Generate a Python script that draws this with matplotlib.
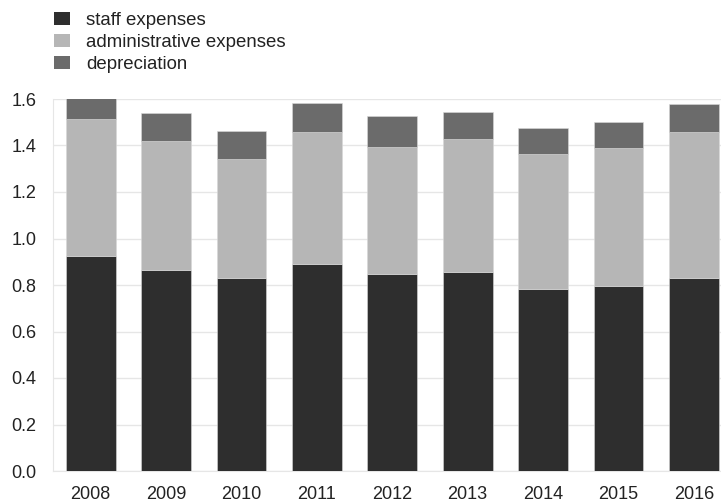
import numpy as np
import matplotlib
matplotlib.use("Agg")
import matplotlib.pyplot as plt
from matplotlib.patches import Patch

years = ['2008', '2009', '2010', '2011', '2012', '2013', '2014', '2015', '2016']
staff = [0.926, 0.864, 0.830, 0.891, 0.848, 0.857, 0.784, 0.796, 0.832]
admin = [0.589, 0.555, 0.510, 0.566, 0.547, 0.572, 0.581, 0.595, 0.624]
depreciation = [0.110, 0.120, 0.124, 0.125, 0.133, 0.116, 0.110, 0.109, 0.121]

labels = ['staff expenses', 'administrative expenses', 'depreciation']
colors = ['#2e2e2e', '#b6b6b6', '#6b6b6b']

plt.rcParams['font.family'] = ['Liberation Sans', 'DejaVu Sans']

fig = plt.figure(figsize=(7.21, 5.04), dpi=100)
ax = fig.add_axes([53 / 721, 33 / 504, 1 - 53 / 721, 372 / 504])

x = np.arange(len(years))
w = 0.66
staff = np.array(staff)
admin = np.array(admin)
depreciation = np.array(depreciation)
ax.bar(x, staff, w, color=colors[0], edgecolor='#d8d8d8', linewidth=0.4, zorder=3)
ax.bar(x, admin, w, bottom=staff, color=colors[1], edgecolor='#d8d8d8', linewidth=0.4, zorder=3)
ax.bar(x, depreciation, w, bottom=staff + admin, color=colors[2], edgecolor='#d8d8d8', linewidth=0.4, zorder=3)

ax.set_xlim(-0.5, 8.36)
ax.set_ylim(0, 1.6)
ax.set_yticks(np.arange(0, 1.61, 0.2))
ax.set_yticklabels([f'{v:.1f}' for v in np.arange(0, 1.61, 0.2)])
ax.set_xticks(x)
ax.set_xticklabels(years)
ax.grid(axis='y', color='#e6e6e6', linewidth=1, zorder=0)
ax.tick_params(length=0, labelsize=13, colors='#222222')
ax.tick_params(axis='y', pad=12)
ax.tick_params(axis='x', pad=11)
for s in ['top', 'right']:
    ax.spines[s].set_visible(False)
for s in ['left', 'bottom']:
    ax.spines[s].set_color('#e6e6e6')

handles = [Patch(facecolor=c, edgecolor='none') for c in colors]
fig.legend(handles, labels, loc='upper left', bbox_to_anchor=(37 / 721, 1 + 5 / 504),
           frameon=False, fontsize=13.4, handlelength=0.87, handleheight=0.72,
           handletextpad=0.85, labelspacing=0.27, labelcolor='#222222')

fig.savefig('out.png', dpi=100)
